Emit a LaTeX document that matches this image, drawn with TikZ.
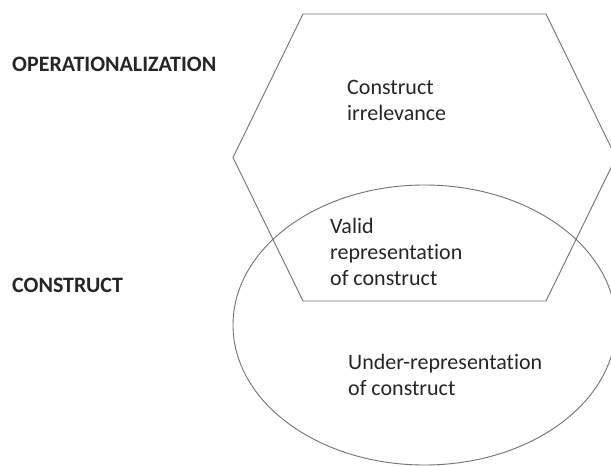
\documentclass[tikz,border=0pt]{standalone}
\usepackage{fontspec}
\setmainfont{Carlito}[Ligatures=NoCommon]
\begin{document}
\begin{tikzpicture}[x=1pt,y=-1pt,
  shapeline/.style={draw=black!55, line width=0.9pt},
  lbl/.style={text=black!85, font=\fontsize{22}{26}\selectfont, align=left, inner sep=0pt, anchor=base west},
  side/.style={text=black!85, font=\fontsize{22}{26}\selectfont\bfseries, inner sep=0pt, anchor=base west}]
\useasboundingbox[fill=white] (0,0) rectangle (611,466);
\clip (0,0) rectangle (611,466);
\draw[shapeline] (303,14) -- (546,14) -- (616,157.5) -- (546,301) -- (303,301) -- (233,157.5) -- cycle;
\draw[shapeline] (424.5,325) ellipse [x radius=191.5, y radius=140];
\node[side] (op) at (12,71.5) {OPERATIONALIZATION};
\node[side] (co) at (12,292) {CONSTRUCT};
\node[lbl] (irr) at (347,120.5) {Construct\\irrelevance};
\node[lbl] (val) at (330,285) {Valid\\representation\\of construct};
\node[lbl] (und) at (348,395.5) {Under-representation\\of construct};
\end{tikzpicture}
\end{document}
